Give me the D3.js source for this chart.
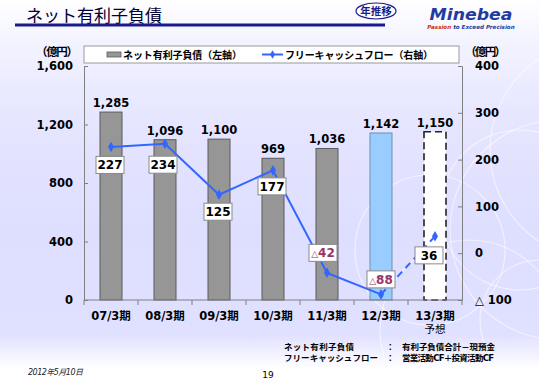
<!DOCTYPE html>
<html><head><meta charset="utf-8">
<script src="https://cdn.jsdelivr.net/npm/d3@7"></script>
<style>
html,body{margin:0;padding:0;background:#fff;}
svg{display:block;}
text{font-family:"DejaVu Sans","Noto Sans CJK JP",sans-serif;}
</style></head>
<body>
<svg id="c" width="539" height="380"></svg>
<script>
// ---- data ----
const categories = ["07/3期","08/3期","09/3期","10/3期","11/3期","12/3期","13/3期"];
const netDebt = [1285, 1096, 1100, 969, 1036, 1142, 1150];
const freeCF = [227, 234, 125, 177, -42, -88, 36];
const leftTicks = [0, 400, 800, 1200, 1600];
const rightTicks = [-100, 0, 100, 200, 300, 400];
const legendLabels = ["ネット有利子負債（左軸）", "フリーキャッシュフロー（右軸）"];
const notes = [["ネット有利子負債", "有利子負債合計－現預金"], ["フリーキャッシュフロー", "営業活動CF＋投資活動CF"]];

// ---- layout (not data) ----
const labelDx = [-1, -2, -1, -1, -4, 0, -6];
const labelDy = [18, 21, 17, 16, -20, -15, 19];
const noteLen = [[70, 93], [94, 92]];

const svg = d3.select("#c");
const W = 539, H = 380;
const defs = svg.append("defs");
const g = defs.append("linearGradient").attr("id","bg").attr("x1",0).attr("y1",0).attr("x2",0).attr("y2",1);
[[0,"#ffffff"],[0.1,"#f4f4ff"],[0.3,"#e6e6ff"],[0.6,"#dedeff"],[0.88,"#e0e0ff"],[0.97,"#ffffff"],[1,"#ffffff"]]
  .forEach(([o,c])=>g.append("stop").attr("offset",o).attr("stop-color",c));
svg.append("rect").attr("width",W).attr("height",H).attr("fill","url(#bg)");

// decorative circles
const deco = svg.append("g").attr("fill","none").attr("stroke","#ffffff").attr("stroke-opacity",0.55).attr("stroke-width",1.2);
[[560,230,110],[520,210,80],[470,330,90],[540,320,60],[430,250,75],[600,150,110]].forEach(([cx,cy,r])=>
  deco.append("circle").attr("cx",cx).attr("cy",cy).attr("r",r));

// title
svg.append("text").attr("x",26).attr("y",22).attr("font-size",17).attr("fill","#000033")
  .attr("font-family","'Noto Sans CJK JP',sans-serif").text("ネット有利子負債");
svg.append("rect").attr("x",15).attr("y",23.5).attr("width",370).attr("height",3).attr("fill","#1a1a8c");
svg.append("ellipse").attr("cx",376).attr("cy",11).attr("rx",20).attr("ry",8)
  .attr("fill","#fff").attr("stroke","#1a1a8c").attr("stroke-width",1.2);
svg.append("text").attr("x",376).attr("y",15).attr("text-anchor","middle").attr("font-size",10.5)
  .attr("font-weight","bold").attr("fill","#1a1a8c").attr("font-family","'Noto Sans CJK JP',sans-serif").text("年推移");
svg.append("text").attr("x",471).attr("y",20).attr("text-anchor","middle").attr("font-size",15.5)
  .attr("font-weight","bold").attr("font-style","italic").attr("fill","#1f3c9e")
  .attr("font-family","'Liberation Sans',Arial,sans-serif").attr("textLength",83).attr("lengthAdjust","spacingAndGlyphs").text("Minebea");
const tag = svg.append("text").attr("x",471).attr("y",28.5).attr("text-anchor","middle").attr("font-size",5.6)
  .attr("font-weight","bold").attr("font-style","italic").attr("font-family","'Liberation Sans',Arial,sans-serif");
tag.append("tspan").attr("fill","#cc3300").text("Passion ");
tag.append("tspan").attr("fill","#1f3c9e").text("to Exceed Precision");

// scales
const x = d3.scaleBand().domain(categories).range([84,462]);
const yL = d3.scaleLinear().domain([0,1600]).range([300,66]);
const yR = d3.scaleLinear().domain([-100,400]).range([300,66]);
const barW = 22;

// axes
const axisColor = "#808080";
const fmt = d3.format(",");
const axL = svg.append("g").attr("transform","translate(84,0)")
  .call(d3.axisLeft(yL).tickValues(leftTicks).tickSize(-4).tickFormat(fmt).tickPadding(11));
const axR = svg.append("g").attr("transform","translate(462,0)")
  .call(d3.axisRight(yR).tickValues(rightTicks).tickSize(-4).tickPadding(13)
    .tickFormat(d=> d<0 ? "△ " + Math.abs(d) : d));
[axL, axR].forEach(a=>{
  a.select(".domain").attr("stroke",axisColor);
  a.selectAll(".tick line").attr("stroke",axisColor);
  a.selectAll(".tick text").attr("font-size",11.5).attr("font-weight","bold").attr("fill","#000")
    .attr("font-family","'DejaVu Sans',sans-serif");
});

// bars
svg.append("g").selectAll("rect").data(netDebt).join("rect")
  .attr("x",(d,i)=>x(categories[i])+x.bandwidth()/2-barW/2)
  .attr("y",d=>yL(d))
  .attr("width",barW)
  .attr("height",d=>yL(0)-yL(d))
  .attr("fill",(d,i)=> i===6 ? "#ffffff" : i===5 ? "#99ccff" : "#969696")
  .attr("stroke",(d,i)=> i===6 ? "#222" : i===5 ? "#6f8fb0" : "#5a5a5a")
  .attr("stroke-width",(d,i)=> i===6 ? 1.6 : 1)
  .attr("stroke-dasharray",(d,i)=> i===6 ? "7,4" : null);

svg.append("g").selectAll("text").data(netDebt).join("text")
  .attr("x",(d,i)=>x(categories[i])+x.bandwidth()/2)
  .attr("y",d=>yL(d)-5)
  .attr("text-anchor","middle").attr("font-size",11.5).attr("font-weight","bold")
  .attr("font-family","'DejaVu Sans',sans-serif").text(d=>fmt(d));

// x axis
svg.append("line").attr("x1",84).attr("x2",462).attr("y1",yL(0)).attr("y2",yL(0)).attr("stroke",axisColor);
const bounds = categories.map(c=>x(c)).concat([x.range()[1]]);
svg.append("g").selectAll("line").data(bounds).join("line")
  .attr("x1",d=>d).attr("x2",d=>d).attr("y1",yL(0)).attr("y2",yL(0)+5).attr("stroke",axisColor);
svg.append("g").selectAll("text").data(categories).join("text")
  .attr("x",d=>x(d)+x.bandwidth()/2).attr("y",320)
  .attr("text-anchor","middle").attr("font-size",11.5).attr("font-weight","bold")
  .text(d=>d);
svg.append("text").attr("x",x(categories[6])+x.bandwidth()/2).attr("y",333)
  .attr("text-anchor","middle").attr("font-size",10.5).attr("font-family","'Noto Sans CJK JP',sans-serif").text("予想");

// line
const pts = freeCF.map((v,i)=>[x(categories[i])+x.bandwidth()/2, yR(v)]);
const lineGen = d3.line();
svg.append("path").attr("d",lineGen(pts.slice(0,6))).attr("fill","none").attr("stroke","#3366ff").attr("stroke-width",2);
svg.append("path").attr("d",lineGen(pts.slice(5,7))).attr("fill","none").attr("stroke","#3366ff").attr("stroke-width",2)
  .attr("stroke-dasharray","7,5");
svg.append("g").selectAll("path").data(pts).join("path")
  .attr("transform",d=>`translate(${d[0]},${d[1]})`)
  .attr("d",d3.symbol(d3.symbolDiamond,32)).attr("fill","#3366ff");

// line labels
const lbl = svg.append("g").selectAll("g").data(freeCF).join("g")
  .attr("transform",(d,i)=>`translate(${pts[i][0]+labelDx[i]},${pts[i][1]+labelDy[i]})`);
lbl.append("rect").attr("x",-14).attr("y",-8.5).attr("width",28).attr("height",17)
  .attr("fill","#fff").attr("stroke","#8a8a8a").attr("stroke-width",1);
lbl.each(function(d){
  const t = d3.select(this).append("text").attr("y",4.5).attr("text-anchor","middle")
    .attr("font-size",12).attr("font-weight","bold").attr("font-family","'DejaVu Sans',sans-serif")
    .attr("fill", d<0 ? "#993366" : "#000");
  if(d<0){
    t.append("tspan").attr("font-size",9).text("△");
    t.append("tspan").text(Math.abs(d));
  } else t.text(d);
});

// legend
svg.append("rect").attr("x",84).attr("y",46).attr("width",375).attr("height",17).attr("fill","#fff").attr("stroke","#999");
svg.append("rect").attr("x",107).attr("y",52).attr("width",14).attr("height",5).attr("fill","#969696").attr("stroke","#5a5a5a").attr("stroke-width",0.8);
svg.append("text").attr("x",123).attr("y",59).attr("font-size",10).attr("font-weight","bold")
  .attr("font-family","'Noto Sans CJK JP',sans-serif").attr("textLength",119).attr("lengthAdjust","spacing").text(legendLabels[0]);
svg.append("line").attr("x1",262).attr("x2",283).attr("y1",54.5).attr("y2",54.5).attr("stroke","#3366ff").attr("stroke-width",2);
svg.append("path").attr("transform","translate(272.5,54.5)").attr("d",d3.symbol(d3.symbolDiamond,20)).attr("fill","#3366ff");
svg.append("text").attr("x",285).attr("y",59).attr("font-size",10).attr("font-weight","bold")
  .attr("font-family","'Noto Sans CJK JP',sans-serif").attr("textLength",148).attr("lengthAdjust","spacing").text(legendLabels[1]);

// unit labels
svg.append("text").attr("x",36).attr("y",56).attr("font-size",11.5).attr("font-weight","bold")
  .attr("font-family","'Noto Sans CJK JP',sans-serif").attr("textLength",42).attr("lengthAdjust","spacing").text("（億円）");
svg.append("text").attr("x",465).attr("y",56).attr("font-size",11.5).attr("font-weight","bold")
  .attr("font-family","'Noto Sans CJK JP',sans-serif").attr("textLength",41).attr("lengthAdjust","spacing").text("（億円）");

// notes
notes.forEach((n,i)=>{
  const yy = 350 + i*11;
  svg.append("text").attr("x",284).attr("y",yy).attr("font-size",8.5).attr("font-weight","bold")
    .attr("font-family","'Noto Sans CJK JP',sans-serif").attr("textLength",noteLen[i][0]).attr("lengthAdjust","spacing").text(n[0]);
  svg.append("text").attr("x",386).attr("y",yy).attr("font-size",8.5).attr("font-weight","bold")
    .attr("font-family","'Noto Sans CJK JP',sans-serif").text("：");
  svg.append("text").attr("x",402).attr("y",yy).attr("font-size",8.5).attr("font-weight","bold")
    .attr("font-family","'Noto Sans CJK JP',sans-serif").attr("textLength",noteLen[i][1]).attr("lengthAdjust","spacing").text(n[1]);
});

// footer
svg.append("text").attr("x",28).attr("y",375).attr("font-size",8).attr("font-style","italic")
  .attr("font-family","'Noto Sans CJK JP',sans-serif").attr("fill","#222").attr("textLength",55).attr("lengthAdjust","spacing").text("2012年5月10日");
svg.append("text").attr("x",268).attr("y",378).attr("text-anchor","middle").attr("font-size",9)
  .attr("font-family","'Liberation Sans',Arial,sans-serif").text("19");
</script>
</body></html>
